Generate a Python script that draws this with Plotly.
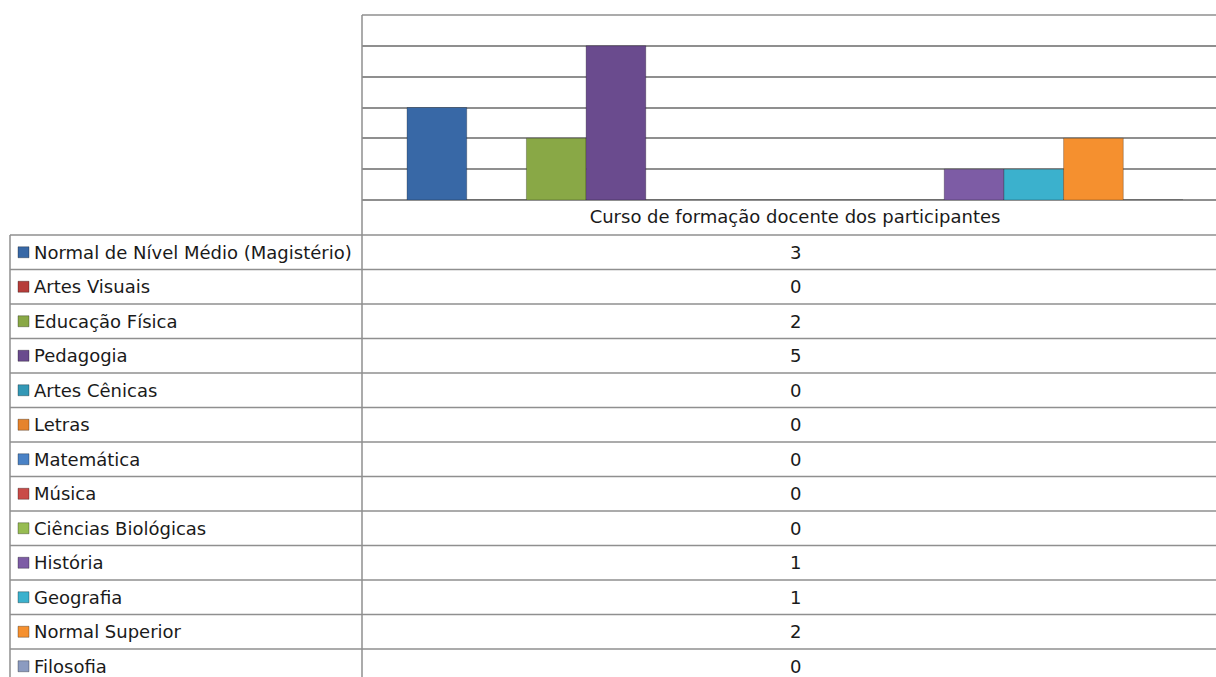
import plotly.graph_objects as go

# ---- data ----
category = ["Curso de formação docente dos participantes"]
series_names = [
    "Normal de Nível Médio (Magistério)", "Artes Visuais", "Educação Física",
    "Pedagogia", "Artes Cênicas", "Letras", "Matemática", "Música",
    "Ciências Biológicas", "História", "Geografia", "Normal Superior", "Filosofia",
]
series_values = [3, 0, 2, 5, 0, 0, 0, 0, 0, 1, 1, 2, 0]
series_colors = [
    "#3868A6", "#B63D3A", "#89A846", "#6A4B8E", "#3398B6", "#E5832C",
    "#4A82C6", "#C94B48", "#97BC52", "#7D5CA5", "#3BB1CD", "#F5902F", "#8B9BC0",
]

W, H = 1216, 677
FONT = "DejaVu Sans"
FSIZE = 18
GRID = "#8f8f8f"
TXT = "#1a1a1a"

def px(x):
    return x / W

def py(y):
    return 1 - y / H

fig = go.Figure()
for name, val, col in zip(series_names, series_values, series_colors):
    fig.add_trace(go.Bar(
        x=category, y=[val], name=name,
        marker=dict(color=col, line=dict(color="rgba(0,0,0,0.25)", width=1)),
    ))

# plot area geometry (pixels)
plot_left, plot_top, plot_bottom = 362, 15, 200
virtual_right = 1228  # plot area extends past the visible window
visible_frac = (W - plot_left) / (virtual_right - plot_left)

shapes = []
annotations = []

shapes.append(dict(type="line", xref="paper", yref="paper",
                   x0=px(plot_left), x1=1, y0=py(plot_top), y1=py(plot_top),
                   line=dict(color=GRID, width=1.5)))

row_top = 235
row_h = 34.5
table_left = 10
n = len(series_names)

for i in range(n + 1):
    yy = row_top + i * row_h
    shapes.append(dict(type="line", xref="paper", yref="paper",
                       x0=px(table_left), x1=1, y0=py(yy), y1=py(yy),
                       line=dict(color=GRID, width=1.5)))
shapes.append(dict(type="line", xref="paper", yref="paper",
                   x0=px(table_left), x1=px(table_left), y0=py(row_top), y1=0,
                   line=dict(color=GRID, width=1.5)))
shapes.append(dict(type="line", xref="paper", yref="paper",
                   x0=px(plot_left), x1=px(plot_left), y0=py(plot_top), y1=0,
                   line=dict(color=GRID, width=1.5)))

value_center = (plot_left + virtual_right) / 2
for i, (name, val, col) in enumerate(zip(series_names, series_values, series_colors)):
    cy = row_top + (i + 0.5) * row_h
    shapes.append(dict(type="rect", xref="paper", yref="paper",
                       x0=px(18), x1=px(29), y0=py(cy + 5.5), y1=py(cy - 5.5),
                       fillcolor=col, line=dict(color="rgba(0,0,0,0.3)", width=1)))
    annotations.append(dict(xref="paper", yref="paper", x=px(32), y=py(cy),
                            text=name, showarrow=False, xanchor="left", yanchor="middle",
                            font=dict(family=FONT, size=FSIZE, color=TXT)))
    annotations.append(dict(xref="paper", yref="paper", x=px(value_center), y=py(cy),
                            text=str(val), showarrow=False, xanchor="center", yanchor="middle",
                            font=dict(family=FONT, size=FSIZE, color=TXT)))

fig.update_layout(
    width=W, height=H,
    margin=dict(l=0, r=0, t=0, b=0),
    paper_bgcolor="white", plot_bgcolor="white",
    barmode="group", bargap=0.104, bargroupgap=0,
    showlegend=False,
    shapes=shapes, annotations=annotations,
    xaxis=dict(
        domain=[px(plot_left), 1],
        range=[-0.5, -0.5 + visible_frac],
        showgrid=False, zeroline=False, showline=False,
        ticks="", ticklabelstandoff=4,
        tickfont=dict(family=FONT, size=FSIZE, color=TXT),
    ),
    yaxis=dict(
        domain=[py(plot_bottom), py(plot_top)],
        range=[0, 6], dtick=1,
        showgrid=True, gridcolor=GRID, gridwidth=1.5,
        zeroline=True, zerolinecolor=GRID, zerolinewidth=1.5,
        showticklabels=False, ticks="", showline=False,
    ),
)

fig.write_html(
    "out.html",
    config={"displayModeBar": False},
    post_script="document.body.style.margin='0';document.body.style.overflow='hidden';",
)
